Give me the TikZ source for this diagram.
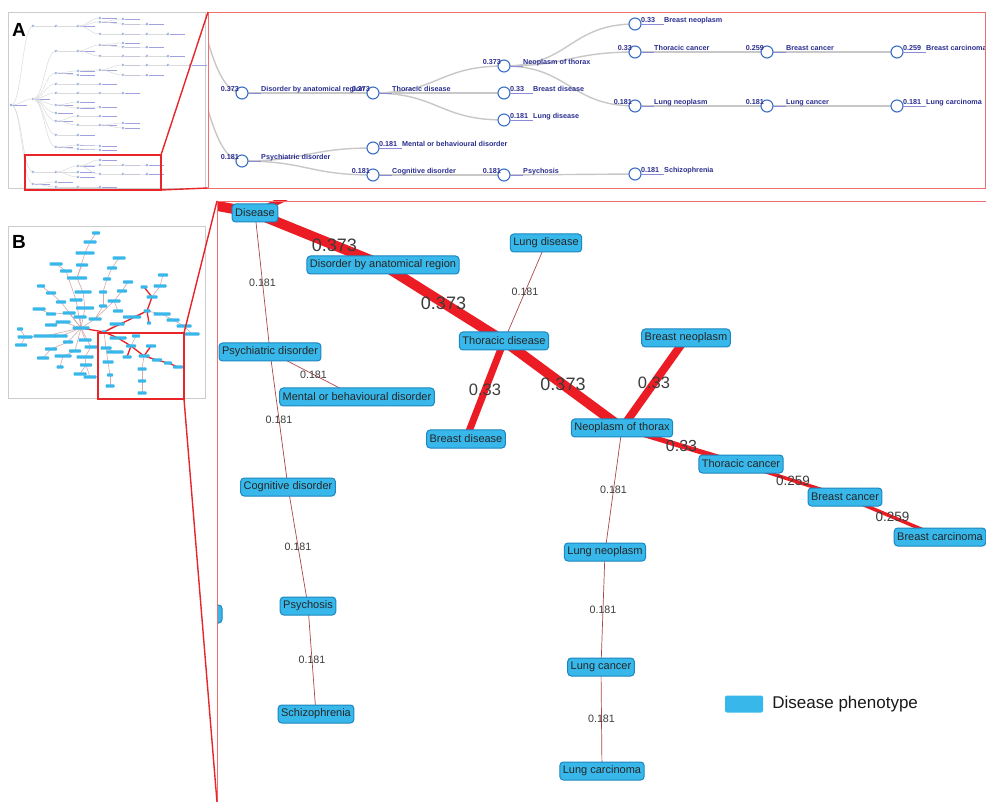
\documentclass[tikz,border=0pt]{standalone}
\usepackage{fontspec}
\setmainfont{Liberation Sans}
\usepackage{tikz}
\usetikzlibrary{calc,positioning}

\definecolor{linkgray}{HTML}{C8C8C8}
\definecolor{treeblue}{HTML}{3A6FC4}
\definecolor{labnavy}{HTML}{2B2F8F}
\definecolor{ulblue}{HTML}{8A8AD6}
\definecolor{minilab}{HTML}{A0A0E0}
\definecolor{phenofill}{HTML}{38B8EA}
\definecolor{phenoedge}{HTML}{1C86C0}
\definecolor{hotred}{HTML}{EC1C24}
\definecolor{coldred}{HTML}{A8484C}
\definecolor{wgray}{HTML}{3C3C3C}
\definecolor{zoomred}{HTML}{E8262A}
\definecolor{framered}{HTML}{F07070}
\definecolor{minipink}{HTML}{D4A8A8}

\tikzset{
  tcirc/.style={circle, draw=treeblue, fill=white, line width=1.1pt, minimum size=12pt, inner sep=0pt},
  tlab/.style={font=\bfseries\fontsize{7.2}{8}\selectfont, text=labnavy, inner sep=0pt},
  tlink/.style={draw=linkgray, line width=1.4pt},
  pheno/.style={draw=phenoedge, fill=phenofill, rounded corners=3.5pt, line width=1pt,
    minimum height=18pt, inner xsep=3pt, inner ysep=0pt, text=black!85,
    font=\fontsize{11}{12}\selectfont},
  hot/.style={draw=hotred, line width=#1},
  cold/.style={draw=coldred, line width=0.7pt},
  wlab/.style={text=wgray, inner sep=0pt, font=\fontsize{#1}{#1}\selectfont},
  minilink/.style={draw=gray!28, line width=0.5pt},
  minitext/.style={draw=minilab, line width=0.8pt},
  minibar/.style={fill=phenofill, rounded corners=0.8pt},
  panelmark/.style={inner sep=0pt, font=\bfseries\fontsize{19}{19}\selectfont},
}

% value label left of the circle (inner node of the tree)
\newcommand{\tinner}[3]{%
  \draw[ulblue, line width=0.6pt] ($(#1)+(6,0.3)$) -- ($(#1)+(19,0.3)$);
  \node[tlab, anchor=base east] (#1-v) at ($(#1)+(-3,-1.5)$) {#2};
  \node[tlab, anchor=base west] (#1-t) at ($(#1)+(19,-1.5)$) {#3};}
% value label right of the circle (leaf of the tree)
\newcommand{\tleaf}[3]{%
  \draw[ulblue, line width=0.6pt] ($(#1)+(6,0.3)$) -- ($(#1)+(29,0.3)$);
  \node[tlab, anchor=base west] (#1-v) at ($(#1)+(6,-1.5)$) {#2};
  \node[tlab, anchor=base west] (#1-t) at ($(#1)+(29,-1.5)$) {#3};}

\begin{document}
\begin{tikzpicture}[x=1pt,y=-1pt]
  \fill[white] (0,0) rectangle (986,802);
  \useasboundingbox (0,0) rectangle (986,802);

  %% ---------------- Panel A: thumbnail ----------------
  \draw[gray!40, line width=0.8pt] (8,12) rectangle (205,188);
  \node[panelmark] (labA) at (19,30) {A};
  \foreach \px/\py/\cx/\cy in {
    11/105/33/26, 11/105/33/99, 11/105/33/172, 11/105/33/184,
    33/26/56/26, 56/26/78/26, 78/26/100/18, 78/26/100/22, 78/26/100/34,
    100/22/123/19, 100/22/123/24, 123/24/147/24,
    100/34/123/34, 123/34/147/34, 147/34/168/34,
    33/99/56/51, 56/51/78/51, 78/51/100/45, 78/51/100/56, 100/45/123/43, 100/45/123/47,
    123/47/147/47, 100/56/123/56, 123/56/147/56, 147/56/168/56,
    33/99/56/73, 56/73/78/71, 56/73/78/75, 78/71/100/70, 100/70/123/65, 123/65/147/65,
    147/65/168/65, 168/65/190/65, 100/70/123/75, 123/75/147/75,
    33/99/56/84, 56/84/78/84, 78/84/100/84,
    33/99/56/93, 56/93/78/93, 78/93/100/93, 100/93/123/93,
    33/99/56/105, 56/105/78/102, 56/105/78/108, 78/108/100/107,
    33/99/56/113,
    33/99/56/121, 56/121/78/116, 56/121/78/125, 78/116/100/116, 78/125/100/125,
    100/125/123/123, 100/125/123/128,
    33/99/56/135, 56/135/78/135,
    33/99/56/147, 56/147/78/145, 56/147/78/149, 78/145/100/146, 78/149/100/150,
    33/172/56/172, 56/172/78/166, 56/172/78/172, 56/172/78/177,
    78/166/100/160, 78/166/100/165, 78/166/100/174, 100/165/123/165, 123/165/147/165,
    100/174/123/174, 123/174/147/174,
    33/184/56/182, 33/184/56/187, 56/187/78/187, 78/187/100/187}
  {
    \draw[minilink] (\px,\py) .. controls +(11,0) and +(-11,0) .. (\cx,\cy);
    \draw[minitext] (\cx+2,\cy) -- +(15,0);
    \draw[treeblue!70, line width=0.4pt] (\cx,\cy) circle (1.1);
  }
  \draw[minitext] (13,105) -- +(14,0);
  \draw[treeblue!70, line width=0.4pt] (11,105) circle (1.1);
  \draw[zoomred, line width=1.8pt] (25,155) rectangle (161,190);

  %% ---------------- Panel A: zoomed tree ----------------
  \coordinate (rootup) at (160,-60);
  \coordinate (rootlow) at (160,8);
  \coordinate (anatA) at (242,93);
  \coordinate (thorA) at (373,93);
  \coordinate (neoA) at (504,66);
  \coordinate (bdisA) at (504,93);
  \coordinate (ldisA) at (504,120);
  \coordinate (bneoA) at (635,24);
  \coordinate (tcanA) at (635,52);
  \coordinate (bcanA) at (767,52);
  \coordinate (bcarA) at (897,52);
  \coordinate (lneoA) at (635,106);
  \coordinate (lcanA) at (767,106);
  \coordinate (lcarA) at (897,106);
  \coordinate (psyA) at (242,161);
  \coordinate (mentA) at (373,148);
  \coordinate (cogA) at (373,175);
  \coordinate (psycA) at (504,175);
  \coordinate (schA) at (635,174);

  % Tree links
  \begin{scope}
    \clip (208,12) rectangle (985,188);
    \draw[tlink] (rootup) .. controls +(41,0) and +(-41,0) .. (anatA);
    \draw[tlink] (rootlow) .. controls +(41,0) and +(-41,0) .. (psyA);
  \end{scope}
  \draw[tlink] (anatA) .. controls +(65,0) and +(-65,0) .. (thorA);
  \draw[tlink] (thorA) .. controls +(65,0) and +(-65,0) .. (neoA);
  \draw[tlink] (thorA) .. controls +(65,0) and +(-65,0) .. (bdisA);
  \draw[tlink] (thorA) .. controls +(65,0) and +(-65,0) .. (ldisA);
  \draw[tlink] (neoA) .. controls +(65,0) and +(-65,0) .. (bneoA);
  \draw[tlink] (neoA) .. controls +(65,0) and +(-65,0) .. (tcanA);
  \draw[tlink] (neoA) .. controls +(65,0) and +(-65,0) .. (lneoA);
  \draw[tlink] (tcanA) .. controls +(65,0) and +(-65,0) .. (bcanA);
  \draw[tlink] (bcanA) .. controls +(65,0) and +(-65,0) .. (bcarA);
  \draw[tlink] (lneoA) .. controls +(65,0) and +(-65,0) .. (lcanA);
  \draw[tlink] (lcanA) .. controls +(65,0) and +(-65,0) .. (lcarA);
  \draw[tlink] (psyA) .. controls +(65,0) and +(-65,0) .. (mentA);
  \draw[tlink] (psyA) .. controls +(65,0) and +(-65,0) .. (cogA);
  \draw[tlink] (cogA) .. controls +(65,0) and +(-65,0) .. (psycA);
  \draw[tlink] (psycA) .. controls +(65,0) and +(-65,0) .. (schA);

  % Tree circles
  \foreach \n in {anatA,thorA,neoA,bdisA,ldisA,bneoA,tcanA,bcanA,bcarA,
                  lneoA,lcanA,lcarA,psyA,mentA,cogA,psycA,schA}
    \node[tcirc] (\n-c) at (\n) {};

  % Labels
  \tinner{anatA}{0.373}{Disorder by anatomical region}
  \tinner{thorA}{0.373}{Thoracic disease}
  \tinner{neoA}{0.373}{Neoplasm of thorax}
  \tleaf{bdisA}{0.33}{Breast disease}
  \tleaf{ldisA}{0.181}{Lung disease}
  \tleaf{bneoA}{0.33}{Breast neoplasm}
  \tinner{tcanA}{0.33}{Thoracic cancer}
  \tinner{bcanA}{0.259}{Breast cancer}
  \tleaf{bcarA}{0.259}{Breast carcinoma}
  \tinner{lneoA}{0.181}{Lung neoplasm}
  \tinner{lcanA}{0.181}{Lung cancer}
  \tleaf{lcarA}{0.181}{Lung carcinoma}
  \tinner{psyA}{0.181}{Psychiatric disorder}
  \tleaf{mentA}{0.181}{Mental or behavioural disorder}
  \tinner{cogA}{0.181}{Cognitive disorder}
  \tinner{psycA}{0.181}{Psychosis}
  \tleaf{schA}{0.181}{Schizophrenia}

  % Frame and zoom lines
  \draw[framered, line width=0.9pt] (208,12) rectangle (985,188);
  \draw[zoomred, line width=1.4pt] (161,155) -- (208,12);
  \draw[zoomred, line width=1.4pt] (161,190) -- (208,188);

  %% ---------------- Panel B: thumbnail ----------------
  \draw[gray!40, line width=0.8pt] (8,226) rectangle (205,398);
  \node[panelmark] (labB) at (19,242) {B};
  \foreach \ax/\ay/\bx/\by in {
    81/328/85/308, 85/308/83/292, 83/292/77/278, 77/278/85/253, 85/253/90/242, 90/242/96/233,
    77/278/82/265, 81/328/76/300, 76/300/66/271, 66/271/56/264,
    81/328/61/302, 61/302/51/293, 51/293/41/286,
    81/328/69/313, 69/313/51/314, 51/314/39/309, 81/328/63/322, 63/322/51/325,
    81/328/45/336, 45/336/25/337, 25/337/20/329, 25/337/21/345,
    81/328/61/336, 81/328/68/342, 68/342/51/349, 51/349/43/358,
    81/328/75/351, 75/351/63/356, 63/356/60/367,
    81/328/85/340, 81/328/91/347, 91/347/85/357, 85/357/86/365, 86/365/80/374, 86/365/90/377,
    81/328/80/317, 81/328/95/319, 95/319/103/306, 103/306/103/292, 103/292/107/279,
    107/279/112/268, 112/268/119/258,
    95/319/114/301, 114/301/122/291, 122/291/128/282, 114/301/118/311, 104/332/117/324,
    147/311/132/317, 147/311/162/314, 162/314/173/320, 173/320/184/326, 184/326/192/334,
    152/297/160/286, 160/286/163/275,
    104/332/106/348, 106/348/115/352, 106/348/108/362, 108/362/110/375, 110/375/110/386,
    131/346/136/336, 144/356/142/369, 142/369/142/381, 142/381/142/393}
    \draw[minipink, line width=0.6pt] (\ax,\ay) -- (\bx,\by);
  \foreach \ax/\ay/\bx/\by in {
    81/328/104/332, 104/332/147/311, 147/311/152/297, 152/297/144/287, 147/311/149/323,
    104/332/118/338, 118/338/131/346, 131/346/144/356, 144/356/151/346, 131/346/127/357,
    144/356/157/360, 157/360/168/363, 168/363/178/367}
    \draw[hotred, line width=1.3pt] (\ax,\ay) -- (\bx,\by);
  \foreach \x/\y/\w in {
    96/233/8, 90/242/13, 85/253/19, 56/264/13, 66/271/12, 82/265/12, 77/278/20, 41/286/8,
    51/293/10, 83/292/17, 61/302/10, 76/300/13, 85/308/18, 39/309/13, 51/314/10, 69/313/13,
    80/317/13, 95/319/13, 51/325/12, 63/322/15, 20/329/6, 81/328/17, 25/337/15, 45/336/23,
    61/336/13, 21/345/12, 68/342/10, 85/340/13, 91/347/13, 51/349/12, 75/351/12, 63/356/17,
    85/357/17, 43/358/12, 60/367/7, 86/365/12, 80/374/13, 90/377/13,
    119/258/13, 112/268/10, 128/282/10, 107/279/8, 163/275/10, 160/286/13, 144/287/7,
    152/297/11, 122/291/10, 114/301/13, 103/292/8, 103/306/8, 118/311/10, 132/317/18,
    147/311/7, 162/314/17, 173/320/13, 149/323/4, 117/324/15, 184/326/15, 192/334/15,
    104/332/5, 118/338/17, 136/336/8, 131/346/10, 151/346/10, 106/348/11, 115/352/17,
    127/357/9, 144/356/11, 157/360/10, 168/363/8, 178/367/10, 108/362/11, 142/369/9,
    110/375/6, 142/381/8, 110/386/9, 142/393/9}
    \fill[minibar] (\x-\w/2,\y-1.7) rectangle (\x+\w/2,\y+1.7);
  \draw[zoomred, line width=1.8pt] (98,333) rectangle (184,399);

  %% ---------------- Panel B: zoomed network ----------------
  \coordinate (offhub) at (42,173);
  \coordinate (offup) at (649,17);
  \coordinate (disB) at (255,213);
  \coordinate (anatB) at (383,265);
  \coordinate (ldisB) at (546,243);
  \coordinate (thorB) at (504,341);
  \coordinate (bneoB) at (686,338);
  \coordinate (psyB) at (270,352);
  \coordinate (mentB) at (357,397);
  \coordinate (bdisB) at (466,439);
  \coordinate (neoB) at (622,428);
  \coordinate (tcanB) at (741,464);
  \coordinate (bcanB) at (845,497);
  \coordinate (bcarB) at (940,537);
  \coordinate (cogB) at (288,487);
  \coordinate (lneoB) at (605,552);
  \coordinate (psycB) at (308,606);
  \coordinate (lcanB) at (601,667);
  \coordinate (schB) at (316,714);
  \coordinate (lcarB) at (602,771);

  \begin{scope}
    \clip (217,201) rectangle (986,802);
    % Strong links
    \draw[hot=10pt] (offhub) -- (disB);
    \draw[hot=6pt] (disB) -- (offup);
    \draw[hot=10pt] (disB) -- node[wlab=18, pos=0.62] {0.373} (anatB);
    \draw[hot=10pt] (anatB) -- node[wlab=18] {0.373} (thorB);
    \draw[hot=10pt] (thorB) -- node[wlab=18] {0.373} (neoB);
    \draw[hot=8pt] (neoB) -- node[wlab=16.5] {0.33} (bneoB);
    \draw[hot=7pt] (thorB) -- node[wlab=16.5] {0.33} (bdisB);
    \draw[hot=5pt] (neoB) -- node[wlab=16] {0.33} (tcanB);
    \draw[hot=3.5pt] (tcanB) -- node[wlab=13.5] {0.259} (bcanB);
    \draw[hot=3.5pt] (bcanB) -- node[wlab=13.5] {0.259} (bcarB);
    % Weak links
    \draw[cold] (disB) -- node[wlab=10.7] {0.181} (psyB);
    \draw[cold] (psyB) -- node[wlab=10.7] {0.181} (mentB);
    \draw[cold] (psyB) -- node[wlab=10.7] {0.181} (cogB);
    \draw[cold] (cogB) -- node[wlab=10.7] {0.181} (psycB);
    \draw[cold] (psycB) -- node[wlab=10.7] {0.181} (schB);
    \draw[cold] (thorB) -- node[wlab=10.7] {0.181} (ldisB);
    \draw[cold] (neoB) -- node[wlab=10.7] {0.181} (lneoB);
    \draw[cold] (lneoB) -- node[wlab=10.7] {0.181} (lcanB);
    \draw[cold] (lcanB) -- node[wlab=10.7] {0.181} (lcarB);

    % Phenotype nodes
    \node[pheno, minimum width=50pt] (cutB-n) at (197,614) {};
    \node[pheno] (disB-n) at (disB) {Disease};
    \node[pheno] (anatB-n) at (anatB) {Disorder by anatomical region};
    \node[pheno] (ldisB-n) at (ldisB) {Lung disease};
    \node[pheno] (thorB-n) at (thorB) {Thoracic disease};
    \node[pheno] (bneoB-n) at (bneoB) {Breast neoplasm};
    \node[pheno] (psyB-n) at (psyB) {Psychiatric disorder};
    \node[pheno] (mentB-n) at (mentB) {Mental or behavioural disorder};
    \node[pheno] (bdisB-n) at (bdisB) {Breast disease};
    \node[pheno] (neoB-n) at (neoB) {Neoplasm of thorax};
    \node[pheno] (tcanB-n) at (tcanB) {Thoracic cancer};
    \node[pheno] (bcanB-n) at (bcanB) {Breast cancer};
    \node[pheno] (bcarB-n) at (bcarB) {Breast carcinoma};
    \node[pheno] (cogB-n) at (cogB) {Cognitive disorder};
    \node[pheno] (lneoB-n) at (lneoB) {Lung neoplasm};
    \node[pheno] (psycB-n) at (psycB) {Psychosis};
    \node[pheno] (lcanB-n) at (lcanB) {Lung cancer};
    \node[pheno] (schB-n) at (schB) {Schizophrenia};
    \node[pheno] (lcarB-n) at (lcarB) {Lung carcinoma};
  \end{scope}

  % Legend
  \node[fill=phenofill, rounded corners=2pt, minimum width=38pt, minimum height=17pt,
        inner sep=0pt] (legkey) at (744,704) {};
  \node[right=9pt of legkey, inner sep=0pt, font=\fontsize{17}{18}\selectfont,
        text=black!90] (legtxt) {Disease phenotype};

  % Frame and zoom lines
  \draw[framered, line width=0.9pt] (986,201) -- (217,201) -- (217,802);
  \draw[zoomred, line width=1.4pt] (184,333) -- (217,201);
  \draw[zoomred, line width=1.4pt] (184,399) -- (217,802);
\end{tikzpicture}
\end{document}
